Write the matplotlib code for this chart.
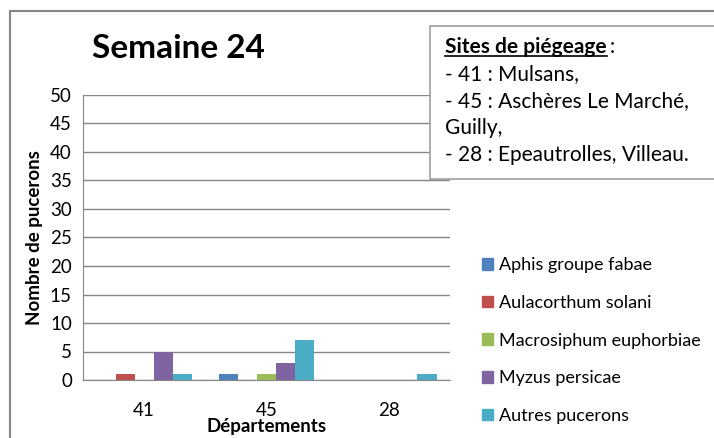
import numpy as np
import matplotlib.pyplot as plt
from matplotlib.patches import Rectangle
from matplotlib.lines import Line2D

plt.rcParams['font.family'] = ['Lato', 'DejaVu Sans']

departements = ['41', '45', '28']
especes = ['Aphis groupe fabae', 'Aulacorthum solani', 'Macrosiphum euphorbiae',
           'Myzus persicae', 'Autres pucerons']
aphis = [0, 1, 0]
aulacorthum = [1, 0, 0]
macrosiphum = [0, 1, 0]
myzus = [5, 3, 0]
autres = [1, 7, 1]
couleurs = ['#4F81BD', '#C0504D', '#9BBB59', '#8064A2', '#4BACC6']
sites = ['- 41 : Mulsans,', '- 45 : Aschères Le Marché,', 'Guilly,',
         '- 28 : Epeautrolles, Villeau.']

W, H = 714, 438
fig = plt.figure(figsize=(W / 100, H / 100), dpi=100)

# cadre exterieur
fig.patches.append(Rectangle((10 / W, -0.1), 1, 1.1 - 11 / H, transform=fig.transFigure,
                             fill=False, edgecolor='#868686', linewidth=1.5))

ax = fig.add_axes([83 / W, 1 - 380 / H, (450 - 83) / W, (380 - 95) / H])
series = [aphis, aulacorthum, macrosiphum, myzus, autres]
x = np.arange(len(departements))
w = 0.156
for i, (vals, c) in enumerate(zip(series, couleurs)):
    ax.bar(x + (i - 2) * w, vals, w, color=c, label=especes[i], zorder=3)

ax.set_xlim(-0.5, 2.5)
ax.set_ylim(0, 50)
ax.set_yticks(range(0, 51, 5))
ax.set_xticks(x)
ax.set_xticklabels(departements)
ax.tick_params(axis='both', length=0, labelsize=13.5, colors='black', pad=8)
ax.tick_params(axis='x', pad=16)
ax.grid(axis='y', color='#868686', linewidth=1, zorder=0)
for s in ['top', 'right']:
    ax.spines[s].set_visible(False)
for s in ['left', 'bottom']:
    ax.spines[s].set_color('#868686')
ax.set_ylabel('Nombre de pucerons', fontsize=13.5, fontweight='bold', labelpad=5)
ax.set_xlabel('Départements', fontsize=13.5, fontweight='bold', labelpad=-1)

fig.text(92 / W, 1 - 48 / H, 'Semaine 24', fontsize=24, fontweight='bold', va='center')

# legende
leg = fig.legend(handles=[Rectangle((0, 0), 1, 1, color=c) for c in couleurs],
                 labels=especes, loc='upper left', bbox_to_anchor=(466 / W, 1 - 241 / H),
                 frameon=False, fontsize=13, handlelength=0.6, handleheight=0.6,
                 handletextpad=0.35, labelspacing=1.2)

# encadre des sites
fig.patches.append(Rectangle((430 / W, 1 - 179 / H), 300 / W, (179 - 26) / H,
                             transform=fig.transFigure, facecolor='white',
                             edgecolor='#A0A0A0', linewidth=1.2, zorder=5))
fs = 15
t = fig.text(445 / W, 1 - 47 / H, 'Sites de piégeage', fontsize=fs, fontweight='bold',
             va='center', zorder=6)
fig.canvas.draw()
bb = t.get_window_extent().transformed(fig.transFigure.inverted())
fig.lines.append(Line2D([bb.x0, bb.x1], [bb.y0 + 1 / H, bb.y0 + 1 / H],
                        transform=fig.transFigure, color='black', linewidth=1.2, zorder=6))
fig.text(bb.x1 + 3 / W, 1 - 47 / H, ':', fontsize=fs, va='center', zorder=6)
for k, ligne in enumerate(sites):
    fig.text(445 / W, 1 - (74 + 27 * k) / H, ligne, fontsize=fs, va='center', zorder=6)

fig.savefig('out.png', dpi=100)
